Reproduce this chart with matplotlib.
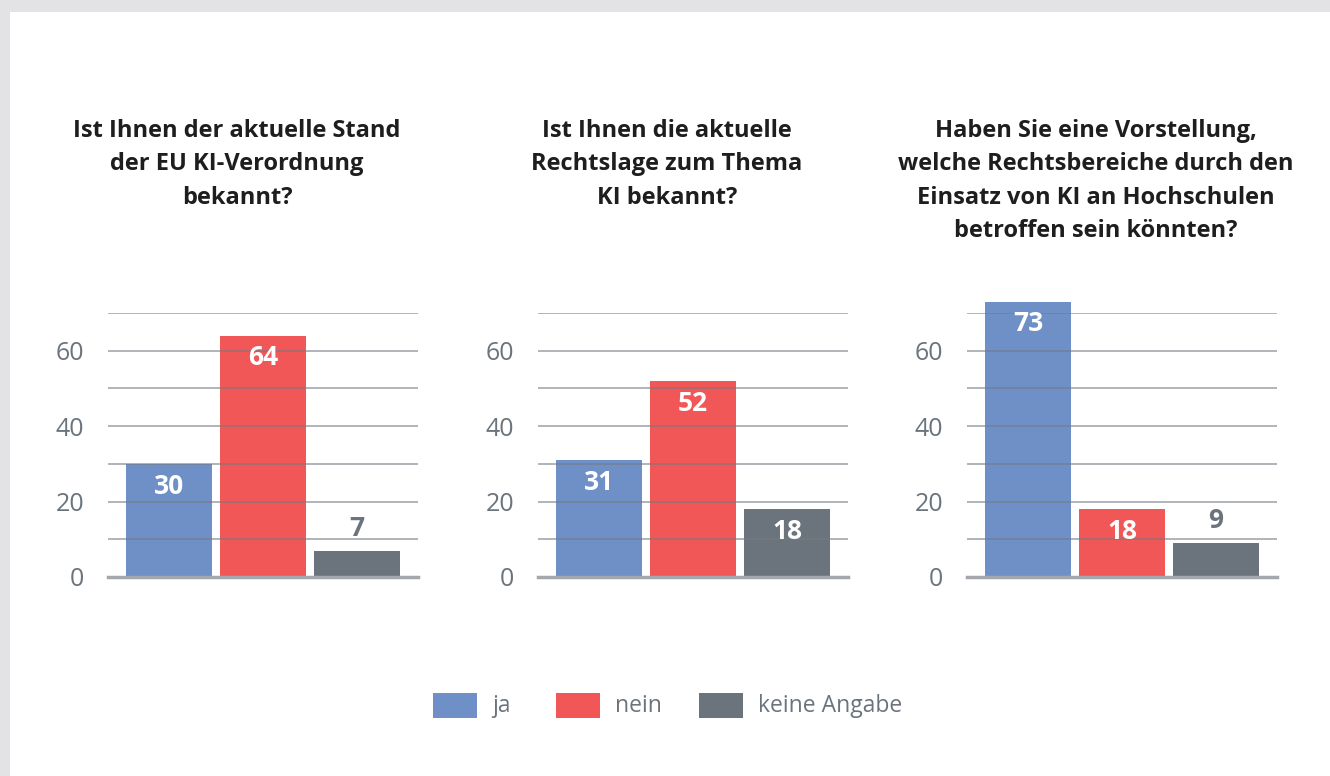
import numpy as np
import matplotlib
matplotlib.use("Agg")
import matplotlib.pyplot as plt
from matplotlib.patches import Rectangle

plt.rcParams['font.family'] = ['Open Sans', 'DejaVu Sans']

# data
categories = ['ja', 'nein', 'keine Angabe']
titles = ['Ist Ihnen der aktuelle Stand\nder EU KI-Verordnung\nbekannt?',
          'Ist Ihnen die aktuelle\nRechtslage zum Thema\nKI bekannt?',
          'Haben Sie eine Vorstellung,\nwelche Rechtsbereiche durch den\nEinsatz von KI an Hochschulen\nbetroffen sein könnten?']
values_eu = [30, 64, 7]
values_recht = [31, 52, 18]
values_bereiche = [73, 18, 9]
yticks = [0, 20, 40, 60]

colors = ['#6f8fc7', '#f15757', '#6b747c']
tick_col = '#6b747c'
W, H = 1330, 776

fig = plt.figure(figsize=(W / 100, H / 100), dpi=100)
fig.patch.set_facecolor('#e3e3e5')
fig.patches.append(Rectangle((10 / W, 0), (W - 10) / W, (H - 12) / H,
                             transform=fig.transFigure, facecolor='white',
                             edgecolor='none', zorder=-5))

panels = [(108, values_eu, 237), (538, values_recht, 667), (967, values_bereiche, 1096)]
x = np.arange(3)
for (left, vals, tcx), title in zip(panels, titles):
    ax = fig.add_axes([left / W, (H - 577) / H, 310 / W, (577 - 313) / H])
    ax.set_facecolor('none')
    ax.bar(x, vals, width=86 / 94, color=colors, zorder=2, clip_on=False)
    ax.set_xlim(-0.65, 2.65)
    ax.set_ylim(0, 70)
    for gy in range(10, 71, 10):
        ax.axhline(gy, color='#737a82', lw=1.3, alpha=0.6, zorder=3)
    ax.axhline(0, color='#a4a8ad', lw=2.5, zorder=3, clip_on=False)
    for s in ax.spines.values():
        s.set_visible(False)
    ax.set_xticks([])
    ax.set_yticks(yticks)
    ax.tick_params(axis='y', length=0, pad=17, labelsize=18, labelcolor=tick_col)
    for xi, v, c in zip(x, vals, colors):
        inside = v >= 10
        ax.annotate(str(v), (xi, v), xytext=(0, -16 if inside else 16),
                    textcoords='offset points', ha='center', va='center',
                    color='white' if inside else c, fontsize=19,
                    fontweight='bold', zorder=4, annotation_clip=False)
    fig.text(tcx / W, 1 - 119 / H, title, ha='center', va='top', fontsize=17,
             fontweight='bold', color='#1e1e1e', linespacing=1.52)

# legend
leg_x = [433, 556, 699]
for lx, lab, c in zip(leg_x, categories, colors):
    fig.patches.append(Rectangle((lx / W, 1 - 718 / H), 44 / W, 25 / H,
                                 transform=fig.transFigure, facecolor=c,
                                 edgecolor='none', zorder=2))
    fig.text((lx + 59) / W, 1 - 706 / H, lab, ha='left', va='center',
             fontsize=16.5, color=tick_col)

fig.savefig('out.png', dpi=100, facecolor=fig.get_facecolor())
